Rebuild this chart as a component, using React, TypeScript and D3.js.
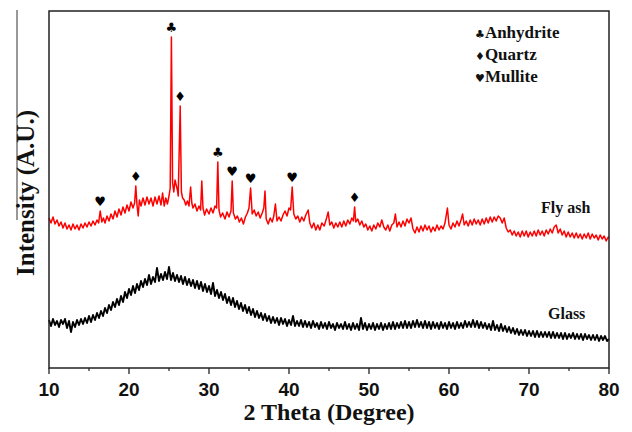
import React from 'react';
import * as d3 from 'd3';

const majorTicks = [10, 20, 30, 40, 50, 60, 70, 80];
const minorTicks = [15, 25, 35, 45, 55, 65, 75];

// Fly ash pattern: [2θ, intensity (a.u.)]
const flyAsh: [number, number][] = [
  [10.0,150],[10.25,145],[10.5,151],[10.75,144],[11.0,148],[11.25,142],[11.5,146],[11.75,140],
  [12.0,145],[12.25,139],[12.5,143],[12.75,138],[13.0,144],[13.25,139],[13.5,143],[13.75,138],
  [14.0,144],[14.25,140],[14.5,145],[14.75,141],[15.0,146],[15.25,142],[15.5,147],[15.75,143],
  [16.0,148],[16.2,145],[16.4,157],[16.6,146],[16.8,150],[17.0,145],[17.25,152],[17.5,147],
  [17.75,154],[18.0,149],[18.25,157],[18.5,151],[18.75,159],[19.0,153],[19.25,161],[19.5,155],
  [19.75,163],[20.0,157],[20.25,166],[20.5,160],[20.7,165],[20.85,182],[21.0,163],[21.15,152],
  [21.3,168],[21.5,162],[21.75,170],[22.0,163],[22.25,171],[22.5,164],[22.75,170],[23.0,162],
  [23.25,171],[23.5,164],[23.75,172],[24.0,163],[24.2,175],[24.4,162],[24.6,170],[24.8,164],
  [25.0,172],[25.15,180],[25.3,331],[25.45,185],[25.6,176],[25.75,188],[25.9,183],[26.05,178],
  [26.15,172],[26.4,262],[26.55,176],[26.7,170],[26.9,168],[27.1,163],[27.3,167],[27.5,162],
  [27.7,181],[27.85,165],[28.0,160],[28.25,164],[28.5,157],[28.75,162],[28.95,158],[29.1,187],
  [29.25,160],[29.45,153],[29.7,159],[30.0,154],[30.25,160],[30.5,155],[30.75,162],[30.95,160],
  [31.1,206],[31.25,158],[31.45,151],[31.7,155],[32.0,149],[32.25,156],[32.5,151],[32.75,157],
  [32.9,187],[33.05,155],[33.3,149],[33.55,152],[33.8,146],[34.05,150],[34.3,144],[34.55,151],
  [34.8,155],[35.0,160],[35.2,180],[35.4,154],[35.65,158],[35.9,152],[36.15,156],[36.4,150],
  [36.65,155],[36.85,160],[37.0,177],[37.15,149],[37.4,144],[37.65,150],[37.9,146],[38.1,152],
  [38.3,164],[38.5,147],[38.75,151],[39.0,147],[39.25,153],[39.5,157],[39.75,152],[40.0,160],
  [40.2,158],[40.4,181],[40.6,154],[40.85,149],[41.1,152],[41.35,146],[41.6,151],[41.85,147],
  [42.1,153],[42.4,158],[42.6,145],[42.85,140],[43.1,145],[43.35,138],[43.6,143],[43.85,138],
  [44.1,145],[44.4,142],[44.7,150],[44.9,156],[45.1,143],[45.35,146],[45.6,140],[45.85,145],
  [46.1,141],[46.35,146],[46.6,141],[46.85,147],[47.1,142],[47.35,148],[47.6,144],[47.85,150],
  [48.05,147],[48.2,161],[48.35,146],[48.6,149],[48.85,143],[49.1,147],[49.35,141],[49.6,144],
  [49.85,138],[50.1,142],[50.35,137],[50.6,143],[50.85,139],[51.1,145],[51.35,141],[51.6,148],
  [51.85,141],[52.1,138],[52.35,143],[52.6,137],[52.85,143],[53.1,145],[53.3,154],[53.5,141],
  [53.75,146],[54.0,141],[54.25,147],[54.5,142],[54.75,149],[55.0,145],[55.25,150],[55.5,139],
  [55.75,135],[56.0,141],[56.25,136],[56.5,142],[56.75,137],[57.0,143],[57.25,138],[57.5,142],
  [57.75,136],[58.0,141],[58.25,137],[58.5,143],[58.75,138],[59.0,142],[59.25,139],[59.5,145],
  [59.8,160],[60.0,143],[60.25,139],[60.5,145],[60.75,141],[61.0,147],[61.25,142],[61.5,148],
  [61.7,154],[61.9,143],[62.15,147],[62.4,142],[62.65,148],[62.9,143],[63.15,149],[63.4,144],
  [63.65,148],[63.9,143],[64.15,149],[64.4,144],[64.65,150],[64.9,145],[65.15,151],[65.4,146],
  [65.65,151],[65.9,147],[66.15,152],[66.4,150],[66.65,145],[66.9,150],[67.15,140],[67.4,136],
  [67.65,138],[67.9,133],[68.15,137],[68.4,132],[68.65,136],[68.9,131],[69.15,137],[69.4,132],
  [69.65,137],[69.9,131],[70.15,136],[70.4,132],[70.65,137],[70.9,132],[71.15,138],[71.4,133],
  [71.65,137],[71.9,132],[72.15,138],[72.4,134],[72.65,139],[72.9,135],[73.15,141],[73.4,143],
  [73.65,135],[73.9,139],[74.15,133],[74.4,137],[74.65,131],[74.9,136],[75.15,131],[75.4,135],
  [75.65,130],[75.9,135],[76.15,130],[76.4,134],[76.65,129],[76.9,134],[77.15,130],[77.4,135],
  [77.65,129],[77.9,134],[78.15,130],[78.4,133],[78.65,128],[78.9,133],[79.15,129],[79.4,132],
  [79.65,127],[79.9,131],[80.0,130],
];

// Glass pattern: [2θ, intensity (a.u.)]
const glass: [number, number][] = [
  [10.0,48],[10.25,42],[10.5,49],[10.75,43],[11.0,47],[11.25,41],[11.5,48],[11.75,44],
  [12.0,49],[12.25,40],[12.5,47],[12.75,36],[13.0,46],[13.25,41],[13.5,48],[13.75,43],
  [14.0,49],[14.25,44],[14.5,50],[14.75,45],[15.0,52],[15.25,46],[15.5,53],[15.75,48],
  [16.0,55],[16.25,50],[16.5,57],[16.75,52],[17.0,60],[17.25,55],[17.5,63],[17.75,58],
  [18.0,66],[18.25,61],[18.5,69],[18.75,63],[19.0,72],[19.25,66],[19.5,76],[19.75,70],
  [20.0,79],[20.25,73],[20.5,82],[20.75,75],[21.0,84],[21.25,78],[21.5,87],[21.75,81],
  [22.0,89],[22.25,83],[22.5,93],[22.75,84],[23.0,91],[23.25,86],[23.5,100],[23.75,87],
  [24.0,94],[24.25,88],[24.5,96],[24.75,89],[25.0,101],[25.25,88],[25.5,95],[25.75,87],
  [26.0,93],[26.25,86],[26.5,92],[26.75,84],[27.0,91],[27.25,83],[27.5,89],[27.75,82],
  [28.0,88],[28.25,80],[28.5,87],[28.75,79],[29.0,86],[29.25,77],[29.5,84],[29.75,76],
  [30.0,82],[30.25,74],[30.5,85],[30.75,72],[31.0,78],[31.25,70],[31.5,76],[31.75,68],
  [32.0,74],[32.25,65],[32.5,71],[32.75,63],[33.0,70],[33.25,61],[33.5,67],[33.75,59],
  [34.0,65],[34.25,57],[34.5,63],[34.75,55],[35.0,61],[35.25,53],[35.5,59],[35.75,51],
  [36.0,57],[36.25,50],[36.5,55],[36.75,48],[37.0,54],[37.25,47],[37.5,52],[37.75,45],
  [38.0,51],[38.25,45],[38.5,50],[38.75,43],[39.0,50],[39.25,44],[39.5,49],[39.75,42],
  [40.0,48],[40.25,43],[40.5,52],[40.75,42],[41.0,47],[41.25,42],[41.5,48],[41.75,41],
  [42.0,47],[42.25,41],[42.5,46],[42.75,40],[43.0,47],[43.25,41],[43.5,45],[43.75,39],
  [44.0,46],[44.25,40],[44.5,45],[44.75,39],[45.0,46],[45.25,40],[45.5,44],[45.75,38],
  [46.0,45],[46.25,40],[46.5,44],[46.75,39],[47.0,46],[47.25,39],[47.5,44],[47.75,38],
  [48.0,45],[48.25,39],[48.5,44],[48.75,38],[49.0,50],[49.25,39],[49.5,45],[49.75,38],
  [50.0,44],[50.25,39],[50.5,45],[50.75,38],[51.0,44],[51.25,39],[51.5,45],[51.75,38],
  [52.0,44],[52.25,39],[52.5,45],[52.75,39],[53.0,46],[53.25,39],[53.5,45],[53.75,40],
  [54.0,46],[54.25,40],[54.5,47],[54.75,40],[55.0,46],[55.25,40],[55.5,47],[55.75,41],
  [56.0,48],[56.25,41],[56.5,46],[56.75,40],[57.0,47],[57.25,40],[57.5,46],[57.75,39],
  [58.0,46],[58.25,40],[58.5,45],[58.75,39],[59.0,46],[59.25,40],[59.5,45],[59.75,39],
  [60.0,46],[60.25,40],[60.5,45],[60.75,39],[61.0,46],[61.25,40],[61.5,45],[61.75,40],
  [62.0,47],[62.25,41],[62.5,46],[62.75,41],[63.0,48],[63.25,41],[63.5,47],[63.75,40],
  [64.0,46],[64.25,40],[64.5,45],[64.75,39],[65.0,44],[65.25,38],[65.5,47],[65.75,38],
  [66.0,43],[66.25,37],[66.5,44],[66.75,37],[67.0,42],[67.25,36],[67.5,41],[67.75,35],
  [68.0,40],[68.25,34],[68.5,39],[68.75,33],[69.0,38],[69.25,33],[69.5,38],[69.75,32],
  [70.0,37],[70.25,32],[70.5,37],[70.75,31],[71.0,37],[71.25,31],[71.5,36],[71.75,31],
  [72.0,36],[72.25,31],[72.5,36],[72.75,30],[73.0,36],[73.25,30],[73.5,35],[73.75,30],
  [74.0,35],[74.25,29],[74.5,35],[74.75,29],[75.0,34],[75.25,30],[75.5,35],[75.75,29],
  [76.0,34],[76.25,29],[76.5,34],[76.75,28],[77.0,34],[77.25,29],[77.5,33],[77.75,28],
  [78.0,33],[78.25,28],[78.5,33],[78.75,27],[79.0,32],[79.25,28],[79.5,32],[79.75,27],
  [80.0,29],
];

// Phase markers
const peakTheta = [16.4, 20.85, 25.3, 26.4, 31.1, 32.9, 35.2, 40.4, 48.2];
const peakIntensity = [157, 182, 331, 262, 206, 187, 180, 181, 161];
const peakPhase = ['Mullite', 'Quartz', 'Anhydrite', 'Quartz', 'Anhydrite', 'Mullite', 'Mullite', 'Mullite', 'Quartz'];

const legendPhases = ['Anhydrite', 'Quartz', 'Mullite'];
const phaseSymbols: Record<string, string> = { Anhydrite: '\u2663', Quartz: '\u2666', Mullite: '\u2665' };

const serif = '"Liberation Serif", "Times New Roman", serif';
const sans = '"Liberation Sans", Arial, sans-serif';
const symFont = '"DejaVu Sans", sans-serif';

export default function App() {
  const W = 632, H = 432;
  const left = 49, right = 609, top = 11, bottom = 368;
  const x = d3.scaleLinear().domain([10, 80]).range([left, right]);
  const y = d3.scaleLinear().domain([0, 357]).range([bottom, top]);
  const line = d3.line<[number, number]>().x(d => x(d[0])).y(d => y(d[1]));

  return (
    <svg width={W} height={H} style={{ position: 'absolute', left: 0, top: 0, background: '#fff' }}>
      <rect x={0} y={0} width={W} height={H} fill="#fff" />
      <line x1={17} x2={17} y1={10} y2={220} stroke="#333" strokeWidth={1} />
      {/* data */}
      <path d={line(glass) || ''} fill="none" stroke="#000" strokeWidth={1.9} strokeLinejoin="round" />
      <path d={line(flyAsh) || ''} fill="none" stroke="#ff0000" strokeWidth={1.5} strokeLinejoin="round" />
      {/* frame */}
      <rect x={left} y={top} width={right - left} height={bottom - top} fill="none" stroke="#222" strokeWidth={1.5} />
      {/* x axis ticks */}
      {majorTicks.map(t => (
        <g key={'M' + t}>
          <line x1={x(t)} x2={x(t)} y1={bottom} y2={bottom + 6} stroke="#222" strokeWidth={1.3} />
          <text x={x(t)} y={396} textAnchor="middle" fontFamily={sans} fontWeight="bold" fontSize={19} fill="#111">{t}</text>
        </g>
      ))}
      {minorTicks.map(t => (
        <line key={'m' + t} x1={x(t)} x2={x(t)} y1={bottom} y2={bottom + 3} stroke="#222" strokeWidth={1.2} />
      ))}
      <text x={(left + right) / 2} y={420} textAnchor="middle" fontFamily={serif} fontWeight="bold" fontSize={24} fill="#111">2 Theta (Degree)</text>
      <text transform={`translate(34, 193) rotate(-90)`} textAnchor="middle" fontFamily={serif} fontWeight="bold" fontSize={25} fill="#111">Intensity (A.U.)</text>
      {/* peak markers */}
      {peakTheta.map((t, i) => (
        <text key={'p' + i} x={x(t)} y={y(peakIntensity[i]) - 5} textAnchor="middle" fontFamily={symFont} fontSize={13} fill="#000">{phaseSymbols[peakPhase[i]]}</text>
      ))}
      {/* legend */}
      {legendPhases.map((p, i) => (
        <text key={'l' + p} x={475} y={38 + i * 22} fontFamily={serif} fontWeight="bold" fontSize={17} fill="#111">
          <tspan fontFamily={symFont} fontSize={11}>{phaseSymbols[p]}</tspan>{p}
        </text>
      ))}
      {/* series labels */}
      <text x={541} y={213} fontFamily={serif} fontWeight="bold" fontSize={16} fill="#111">Fly ash</text>
      <text x={548} y={319} fontFamily={serif} fontWeight="bold" fontSize={16} fill="#111">Glass</text>
    </svg>
  );
}
